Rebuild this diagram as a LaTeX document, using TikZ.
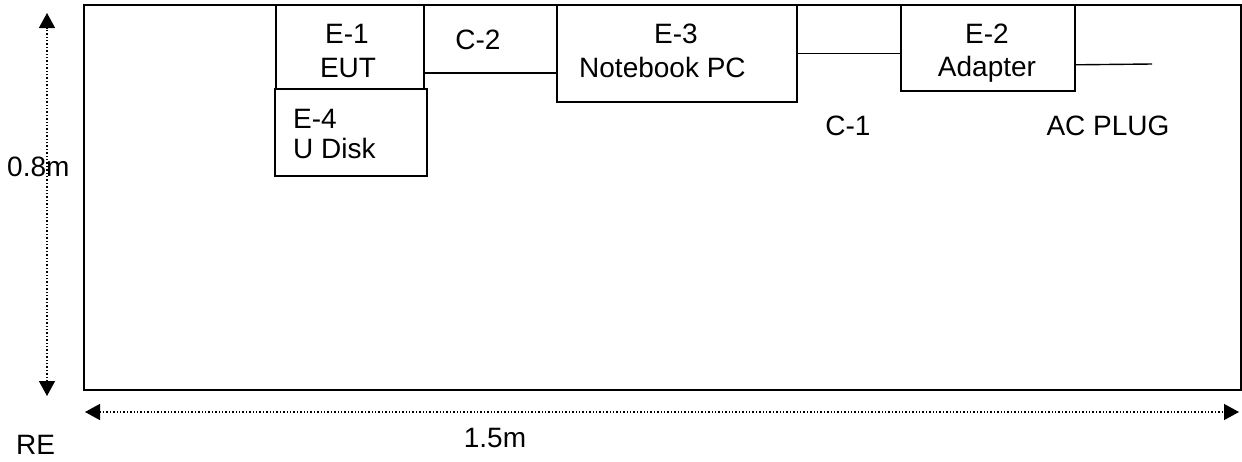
\documentclass[tikz,border=0pt]{standalone}
\usepackage{fontspec}
\setmainfont{Liberation Sans}
\usetikzlibrary{arrows.meta}
\begin{document}
\begin{tikzpicture}[x=1pt,y=-1pt,
  every node/.style={font=\fontsize{28}{34}\selectfont, inner sep=0pt},
  box/.style={draw, line width=1.6pt, anchor=north west},
  lbl/.style={anchor=base},
  wire/.style={line width=1.4pt},
  dim/.style={dotted, line width=1.4pt, {Triangle[length=15pt,width=16pt]}-{Triangle[length=15pt,width=16pt]}}]
\useasboundingbox (0,0) rectangle (1242,461);
% outer frame
\node[box, minimum width=1157pt, minimum height=385pt] (room) at (83,4) {};
% equipment boxes
\node[box, minimum width=148pt, minimum height=84pt] (e1) at (275,4) {};
\node[box, minimum width=152pt, minimum height=87pt] (e4) at (274,88) {};
\node[box, minimum width=240pt, minimum height=97pt] (e3) at (556,4) {};
\node[box, minimum width=174pt, minimum height=86pt] (e2) at (900,4) {};
% texts
\node[lbl] (t1a) at (347,43) {E-1};
\node[lbl] (t1b) at (348,77) {EUT};
\node[lbl, anchor=base west] (t4a) at (293,128) {E-4};
\node[lbl, anchor=base west] (t4b) at (293,158) {U Disk};
\node[lbl] (t3a) at (676,43) {E-3};
\node[lbl, anchor=base west] (t3b) at (579,77) {Notebook PC};
\node[lbl] (t2a) at (987,43) {E-2};
\node[lbl] (t2b) at (987,76) {Adapter};
\node[lbl] (c2) at (478,49) {C-2};
\node[lbl] (c1) at (848,135) {C-1};
\node[lbl] (ac) at (1108,135) {AC PLUG};
\node[lbl, anchor=base west] (h) at (7,176) {0.8m};
\node[lbl] (w) at (495,447) {1.5m};
\node[lbl, anchor=base west] (re) at (16,454) {RE};
% connectors
\coordinate (plug) at (1152,64);
\draw[wire] ([yshift=-26pt]e1.east) -- ([yshift=-26pt]e1.east -| e3.west);
\draw[wire] (e3.east) -- (e3.east -| e2.west);
\draw[wire] ([yshift=-17pt]e2.east) -- (plug);
% dimension arrows
\coordinate (vt) at (47,13);
\coordinate (vb) at (47,396);
\coordinate (hl) at (85,412);
\coordinate (hr) at (1239,412);
\draw[dim] (vb) -- (vt);
\draw[dim] (hl) -- (hr);
\end{tikzpicture}
\end{document}
